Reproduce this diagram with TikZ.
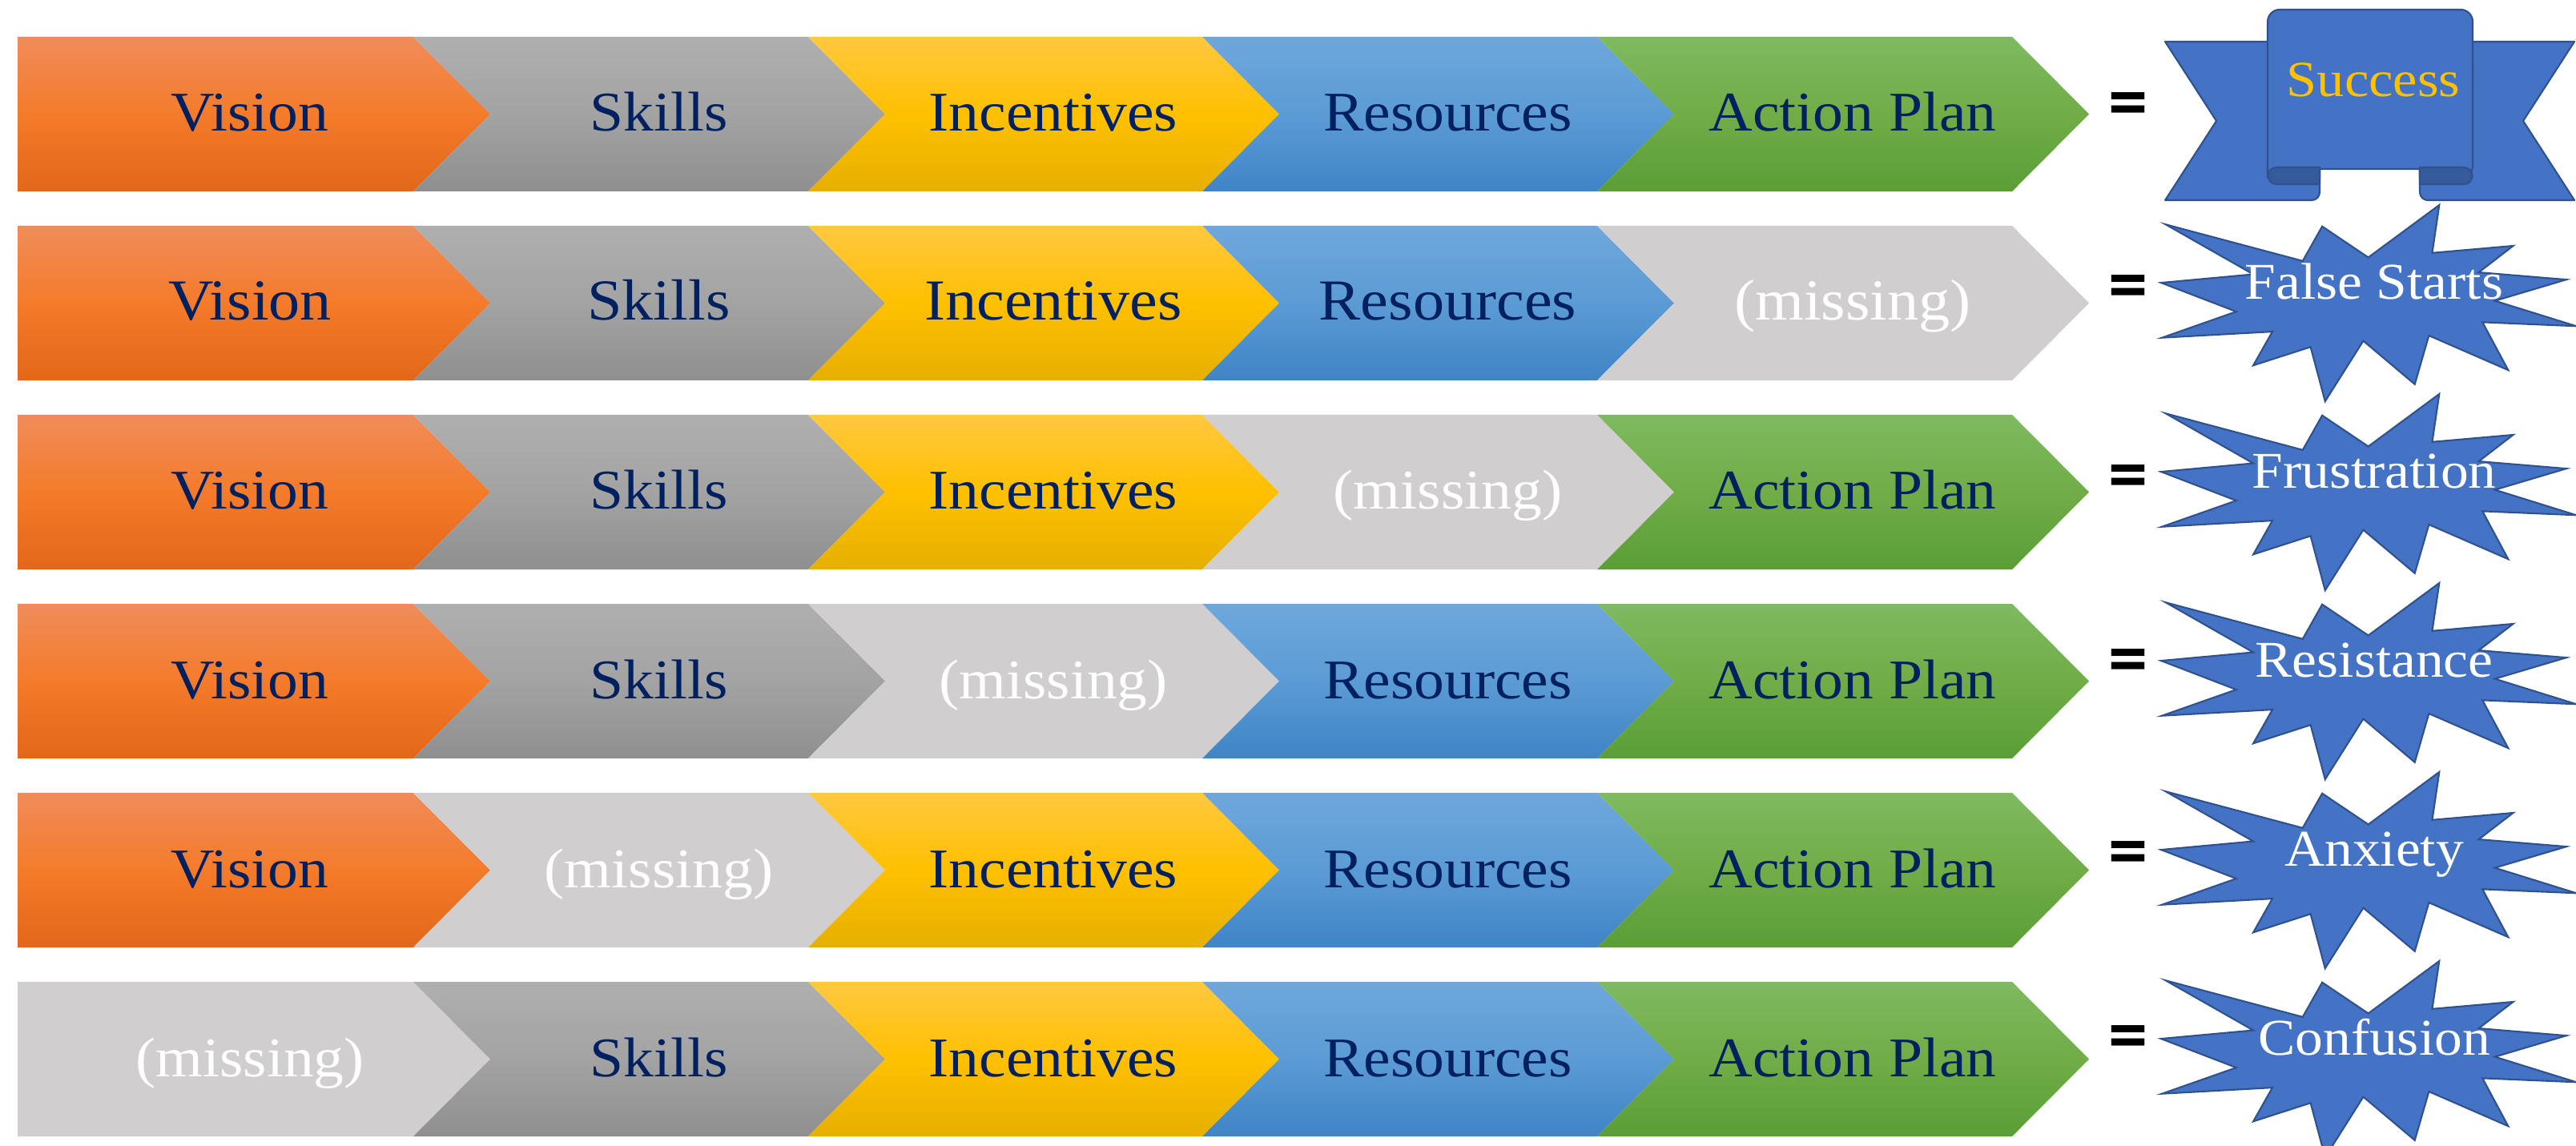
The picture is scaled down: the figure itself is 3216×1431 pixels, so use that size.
\documentclass[tikz,border=0pt]{standalone}
\usepackage{fontspec}
\setmainfont{Liberation Serif}[FakeStretch=1.08]
\newfontfamily\eqfont{Carlito}

\definecolor{navytxt}{HTML}{002060}
\definecolor{orangeT}{HTML}{F08C5A}
\definecolor{orangeM}{HTML}{F47B2A}
\definecolor{orangeB}{HTML}{E2671A}
\definecolor{grayT}{HTML}{AFAFAF}
\definecolor{grayM}{HTML}{A3A3A3}
\definecolor{grayB}{HTML}{8F8F8F}
\definecolor{yellowT}{HTML}{FFC840}
\definecolor{yellowM}{HTML}{FFC000}
\definecolor{yellowB}{HTML}{E6B000}
\definecolor{blueT}{HTML}{6FA7DC}
\definecolor{blueM}{HTML}{5B9BD5}
\definecolor{blueB}{HTML}{3F84C6}
\definecolor{greenT}{HTML}{7EBA60}
\definecolor{greenM}{HTML}{70AD47}
\definecolor{greenB}{HTML}{5B9E35}
\definecolor{missgray}{HTML}{D0CECE}
\definecolor{burstblue}{HTML}{4472C4}
\definecolor{burstedge}{HTML}{2F528F}
\definecolor{gold}{HTML}{FFC000}

\newcommand\chevsize{19.9}

% first piece of a row: flat left end, point on the right
\newcommand\headpiece[5]{%
  \path[#1] (22,#3) -- (516,#3) -- ++(96,96.5) -- (516,#3+193) -- (22,#3+193) -- cycle;
  \node[#2] (#4) at (312,#3+118) {#5};}

% chevron piece: notch on the left, point on the right
\newcommand\piece[7]{%
  \path[#1] (#3,#5) -- (#4,#5) -- ++(96,96.5) -- (#4,#5+193) -- (#3,#5+193) -- ++(96,-96.5) -- cycle;
  \node[#2] (#6) at ({(#3+#4)/2+60},#5+118) {#7};}

% explosion shape with its label
\newcommand\burst[3]{%
  \begin{scope}[shift={(2698,#1-122.5)}, x=5.18cm, y=-2.45cm]
    \draw[burstshape] (0.011,0.099) -- (0.341,0.285) -- (0.388,0.109) -- (0.499,0.267)
      -- (0.670,0) -- (0.653,0.244) -- (0.848,0.208) -- (0.765,0.343) -- (0.976,0.380)
      -- (0.804,0.488) -- (1,0.617) -- (0.774,0.597) -- (0.836,0.841) -- (0.645,0.665)
      -- (0.611,0.913) -- (0.487,0.692) -- (0.395,1) -- (0.360,0.723) -- (0.222,0.817)
      -- (0.268,0.645) -- (0.002,0.676) -- (0.181,0.543) -- (0,0.396) -- (0.222,0.353) -- cycle;
  \end{scope}
  \node[bursttxt] (#2) at (2964,#1-5) {#3};}

\begin{document}
\begin{tikzpicture}[
  x=0.01cm, y=-0.01cm,
  every node/.style={inner sep=0pt},
  orangepc/.style={top color=orangeT, bottom color=orangeB, middle color=orangeM},
  graypc/.style={top color=grayT, bottom color=grayB, middle color=grayM},
  yellowpc/.style={top color=yellowT, bottom color=yellowB, middle color=yellowM},
  bluepc/.style={top color=blueT, bottom color=blueB, middle color=blueM},
  greenpc/.style={top color=greenT, bottom color=greenB, middle color=greenM},
  misspc/.style={fill=missgray},
  lbl/.style={anchor=base, text=navytxt, font=\fontsize{\chevsize}{24}\selectfont},
  misslbl/.style={lbl, text=white},
  eq/.style={anchor=north, font=\eqfont\bfseries\fontsize{28}{32}\selectfont},
  burstshape/.style={fill=burstblue, draw=burstedge, line width=0.6pt, line join=miter},
  bursttxt/.style={anchor=base, text=white, font=\fontsize{18.3}{22}\selectfont},
  ribbon/.style={fill=burstblue, draw=burstedge, line width=0.6pt, line join=round},
  curl/.style={fill=burstblue!80!black, draw=burstedge, line width=0.6pt},
]
\useasboundingbox (0,0) rectangle (3216,1431);

%% Row 1: everything in place
\headpiece{orangepc}{lbl}{46}{r1c1}{Vision}
\piece{graypc}{lbl}{516}{1009}{46}{r1c2}{Skills}
\piece{yellowpc}{lbl}{1009}{1501}{46}{r1c3}{Incentives}
\piece{bluepc}{lbl}{1501}{1994}{46}{r1c4}{Resources}
\piece{greenpc}{lbl}{1994}{2512}{46}{r1c5}{Action Plan}
\node[eq] (eq1) at (2657,115) {=};

% banner
\draw[ribbon] (2703,52) -- (2896,52) -- (2896,240) arc[start angle=0, end angle=-90, radius=1mm]
  -- (2703,250) -- (2767,151) -- cycle;
\draw[ribbon] (3214,52) -- (3021,52) -- (3021,240) arc[start angle=180, end angle=270, radius=1mm]
  -- (3214,250) -- (3150,151) -- cycle;
\draw[ribbon] (2831,222) {[rounded corners=1.5mm] -- (2831,12) -- (3087,12) -- (3087,222)}
  -- (3021,222) -- (3021,211) -- (2896,211) -- (2896,222) -- cycle;
\draw[curl] (2896,209) -- (2842,209) arc[start angle=90, end angle=270, radius=1.05mm] -- (2896,230) -- cycle;
\draw[curl] (3021,209) -- (3076,209) arc[start angle=90, end angle=-90, radius=1.05mm] -- (3021,230) -- cycle;
\node[anchor=base, text=gold, font=\fontsize{18}{22}\selectfont] (res1) at (2963,121) {Success};

%% Row 2: no action plan
\begin{scope}
\def\chevsize{20.6}
\headpiece{orangepc}{lbl}{282}{r2c1}{Vision}
\piece{graypc}{lbl}{516}{1009}{282}{r2c2}{Skills}
\piece{yellowpc}{lbl}{1009}{1501}{282}{r2c3}{Incentives}
\piece{bluepc}{lbl}{1501}{1994}{282}{r2c4}{Resources}
\piece{misspc}{misslbl}{1994}{2512}{282}{r2c5}{(missing)}
\end{scope}
\node[eq] (eq2) at (2657,343) {=};
\burst{378.5}{res2}{False Starts}

%% Row 3: no resources
\headpiece{orangepc}{lbl}{518}{r3c1}{Vision}
\piece{graypc}{lbl}{516}{1009}{518}{r3c2}{Skills}
\piece{yellowpc}{lbl}{1009}{1501}{518}{r3c3}{Incentives}
\piece{misspc}{misslbl}{1501}{1994}{518}{r3c4}{(missing)}
\piece{greenpc}{lbl}{1994}{2512}{518}{r3c5}{Action Plan}
\node[eq] (eq3) at (2657,580) {=};
\burst{614.5}{res3}{Frustration}

%% Row 4: no incentives
\headpiece{orangepc}{lbl}{754}{r4c1}{Vision}
\piece{graypc}{lbl}{516}{1009}{754}{r4c2}{Skills}
\piece{misspc}{misslbl}{1009}{1501}{754}{r4c3}{(missing)}
\piece{bluepc}{lbl}{1501}{1994}{754}{r4c4}{Resources}
\piece{greenpc}{lbl}{1994}{2512}{754}{r4c5}{Action Plan}
\node[eq] (eq4) at (2657,810) {=};
\burst{850.5}{res4}{Resistance}

%% Row 5: no skills
\headpiece{orangepc}{lbl}{990}{r5c1}{Vision}
\piece{misspc}{misslbl}{516}{1009}{990}{r5c2}{(missing)}
\piece{yellowpc}{lbl}{1009}{1501}{990}{r5c3}{Incentives}
\piece{bluepc}{lbl}{1501}{1994}{990}{r5c4}{Resources}
\piece{greenpc}{lbl}{1994}{2512}{990}{r5c5}{Action Plan}
\node[eq] (eq5) at (2657,1050) {=};
\burst{1086.5}{res5}{Anxiety}

%% Row 6: no vision
\headpiece{misspc}{misslbl}{1226}{r6c1}{(missing)}
\piece{graypc}{lbl}{516}{1009}{1226}{r6c2}{Skills}
\piece{yellowpc}{lbl}{1009}{1501}{1226}{r6c3}{Incentives}
\piece{bluepc}{lbl}{1501}{1994}{1226}{r6c4}{Resources}
\piece{greenpc}{lbl}{1994}{2512}{1226}{r6c5}{Action Plan}
\node[eq] (eq6) at (2657,1280) {=};
\burst{1322.5}{res6}{Confusion}

\end{tikzpicture}
\end{document}
